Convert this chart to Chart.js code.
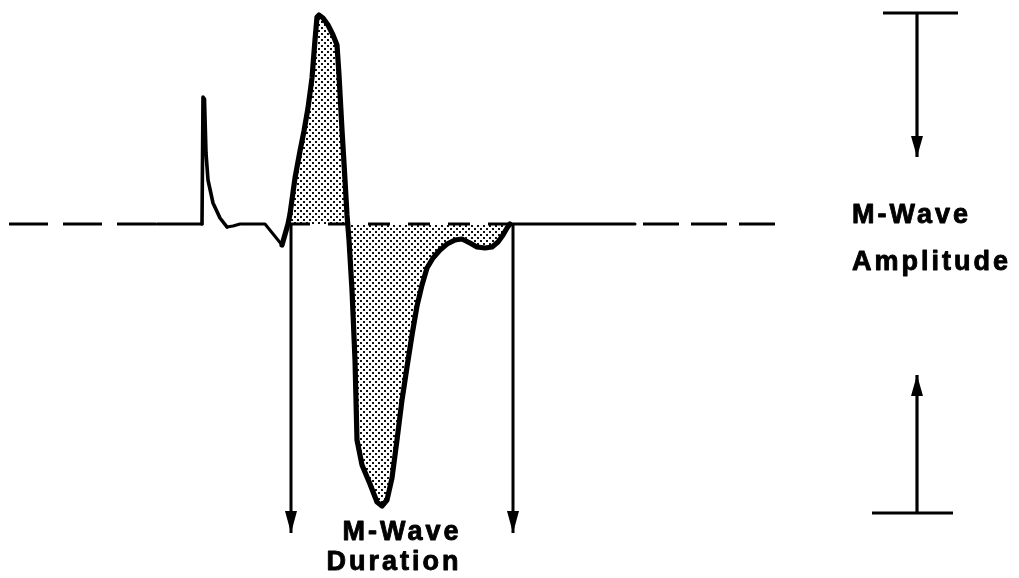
<!DOCTYPE html>
<html>
<head>
<meta charset="utf-8">
<script src="https://cdn.jsdelivr.net/npm/chart.js@4/dist/chart.umd.min.js"></script>
<style>
  html, body { margin: 0; padding: 0; background: #ffffff; }
  #wrap { width: 1019px; height: 578px; }
</style>
</head>
<body>
<div id="wrap"><canvas id="c" width="1019" height="578"></canvas></div>
<script>
// ---- Data (time in arbitrary units, amplitude relative to baseline = 0) ----
const waveTime = [15.7, 20.2, 20.3, 20.45, 20.6, 20.8, 21.3, 22.0, 22.7, 23.3, 24.0, 26.5, 28.2,
  28.8, 29.0, 29.5, 30.0, 30.4, 30.8, 31.2, 31.5, 31.7, 31.9, 32.3, 32.8, 33.3, 33.7, 33.9, 34.2,
  34.5, 34.7, 34.9, 35.2, 35.5, 35.7, 36.2, 37.0, 37.7, 38.2, 38.7, 39.2, 39.7, 40.2, 40.7, 41.2,
  41.7, 42.2, 42.7, 43.3, 44.0, 44.7, 45.5, 46.2, 47.0, 47.7, 48.5, 49.2, 49.8, 50.3, 50.7, 51.0, 63.5];
const waveAmplitude = [0, 0, 12.7, 12.5, 7.1, 4.4, 2.1, 0.6, -0.3, -0.2, 0, 0, -2.1,
  0, 1.0, 4.6, 7.3, 9.3, 11.6, 14.6, 18.4, 20.7, 20.9, 20.6, 19.9, 18.9, 17.9, 14.9, 9.4,
  4.4, 0.9, -1.6, -6.6, -13.6, -21.6, -24.1, -26.0, -27.8, -28.2, -27.6, -25.4, -21.6, -17.6, -14.3, -11.1,
  -8.2, -6.1, -4.4, -3.4, -2.6, -2.0, -1.6, -1.5, -1.9, -2.3, -2.4, -2.3, -1.8, -1.1, -0.4, 0, 0];

// M-wave window (start / end of the response)
const mWaveStart = 28.8;
const mWaveEnd = 51.0;

// dashed baseline pieces (time ranges)
const baselineDashStart = [0.9, 28.8, 64.3];
const baselineDashEnd = [15.6, 51.0, 77.8];

// arrows
const durationArrowTime = [29.1, 51.3];
const durationArrowFrom = [0, 0];
const durationArrowTo = [-30.9, -30.9];
const amplitudeArrowTime = [91.7, 91.7];
const amplitudeArrowFrom = [21.1, -28.9];
const amplitudeArrowTo = [6.7, -15.1];
const amplitudeBarLevel = [21.1, -28.9];
const amplitudeBarStart = [88.3, 87.2];
const amplitudeBarEnd = [95.8, 95.3];

// labels
const labelTexts = ['M-Wave', 'Duration', 'M-Wave', 'Amplitude'];

// ---- Build datasets ----
const wavePoints = waveTime.map((t, i) => ({ x: t, y: waveAmplitude[i] }));
const fillPoints = wavePoints.filter(p => p.x >= mWaveStart && p.x <= mWaveEnd);

// stipple pattern
const pc = document.createElement('canvas');
pc.width = 6; pc.height = 6;
const pctx = pc.getContext('2d');
pctx.fillStyle = '#ffffff';
pctx.fillRect(0, 0, 6, 6);
pctx.fillStyle = '#111111';
pctx.fillRect(0, 0, 2, 2);
pctx.fillRect(3, 3, 2, 2);
const stipple = document.getElementById('c').getContext('2d').createPattern(pc, 'repeat');

const datasets = [];
datasets.push({
  label: 'fill', data: fillPoints, showLine: true, pointRadius: 0, borderWidth: 0,
  borderColor: 'rgba(0,0,0,0)', backgroundColor: stipple, fill: { value: 0 }, order: 5
});
baselineDashStart.forEach((s, i) => {
  datasets.push({
    label: 'baseline' + i, data: [{ x: s, y: 0 }, { x: baselineDashEnd[i], y: 0 }],
    showLine: true, pointRadius: 0, borderColor: '#000', borderWidth: 3,
    borderDash: i === 0 ? [39, 15] : (i === 1 ? [22, 18] : [36, 12]), fill: false, order: 4
  });
});
datasets.push({
  label: 'wave', data: wavePoints, showLine: true, pointRadius: 0, borderColor: '#000',
  borderWidth: 3, borderJoinStyle: 'round', borderCapStyle: 'round', fill: false, order: 1,
  segment: {
    borderWidth: ctx => {
      const a = ctx.p0.parsed.x, b = ctx.p1.parsed.x;
      if (a >= 28.2 && b <= mWaveEnd) return 5.2;
      if (a >= 20.2 && b <= 22.8) return 3.6;
      return 3;
    }
  }
});
durationArrowTime.forEach((t, i) => {
  datasets.push({
    label: 'dur' + i, data: [{ x: t, y: durationArrowFrom[i] }, { x: t, y: durationArrowTo[i] }],
    showLine: true, pointRadius: 0, borderColor: '#000', borderWidth: 3, fill: false, order: 2
  });
});
amplitudeArrowTime.forEach((t, i) => {
  datasets.push({
    label: 'amp' + i, data: [{ x: t, y: amplitudeArrowFrom[i] }, { x: t, y: amplitudeArrowTo[i] }],
    showLine: true, pointRadius: 0, borderColor: '#000', borderWidth: 3.2, fill: false, order: 2
  });
  datasets.push({
    label: 'bar' + i, data: [{ x: amplitudeBarStart[i], y: amplitudeBarLevel[i] }, { x: amplitudeBarEnd[i], y: amplitudeBarLevel[i] }],
    showLine: true, pointRadius: 0, borderColor: '#000', borderWidth: 3, fill: false, order: 2
  });
});

// ---- plugins: arrowheads and labels ----
const arrowPlugin = {
  id: 'arrowheads',
  afterDatasetsDraw(chart) {
    const { ctx, scales: { x, y } } = chart;
    const heads = [];
    durationArrowTime.forEach((t, i) => heads.push([t, durationArrowFrom[i], durationArrowTo[i], 22, 12]));
    amplitudeArrowTime.forEach((t, i) => heads.push([t, amplitudeArrowFrom[i], amplitudeArrowTo[i], 21, 12]));
    ctx.save();
    ctx.fillStyle = '#000';
    heads.forEach(([t, y0, y1, len, w]) => {
      const px = x.getPixelForValue(t);
      const tip = y.getPixelForValue(y1);
      const from = y.getPixelForValue(y0);
      const dir = tip > from ? 1 : -1;
      ctx.beginPath();
      ctx.moveTo(px, tip);
      ctx.lineTo(px - w / 2, tip - dir * len);
      ctx.lineTo(px + w / 2, tip - dir * len);
      ctx.closePath();
      ctx.fill();
    });
    ctx.restore();
  }
};

const labelPlugin = {
  id: 'labels',
  afterDraw(chart) {
    const { ctx, scales: { x, y } } = chart;
    const o = chart.options.plugins.labels;
    ctx.save();
    ctx.fillStyle = '#000';
    ctx.strokeStyle = '#000';
    ctx.lineWidth = 0.9;
    ctx.lineJoin = 'round';
    ctx.font = 'bold 27px "Liberation Sans", Arial, Helvetica, sans-serif';
    ctx.textBaseline = 'alphabetic';
    try { ctx.letterSpacing = '3px'; } catch (e) {}
    labelTexts.forEach((txt, i) => {
      const a = o.anchors[i];
      ctx.textAlign = a.align;
      const px = x.getPixelForValue(a.x), py = y.getPixelForValue(a.y);
      ctx.fillText(txt, px, py);
      ctx.strokeText(txt, px, py);
    });
    ctx.restore();
  }
};

new Chart(document.getElementById('c'), {
  type: 'scatter',
  data: { datasets },
  options: {
    responsive: false,
    animation: false,
    devicePixelRatio: 1,
    layout: { padding: 0 },
    elements: { line: { tension: 0 } },
    scales: {
      x: { type: 'linear', min: 0, max: 101.9, display: false },
      y: { type: 'linear', min: -35.4, max: 22.4, display: false }
    },
    plugins: {
      legend: { display: false },
      tooltip: { enabled: false },
      labels: {
        anchors: [
          { x: 40.2, y: -31.6, align: 'center' },
          { x: 39.4, y: -34.6, align: 'center' },
          { x: 85.2, y: 0.1, align: 'left' },
          { x: 85.2, y: -4.6, align: 'left' }
        ]
      }
    }
  },
  plugins: [arrowPlugin, labelPlugin]
});
</script>
</body>
</html>
